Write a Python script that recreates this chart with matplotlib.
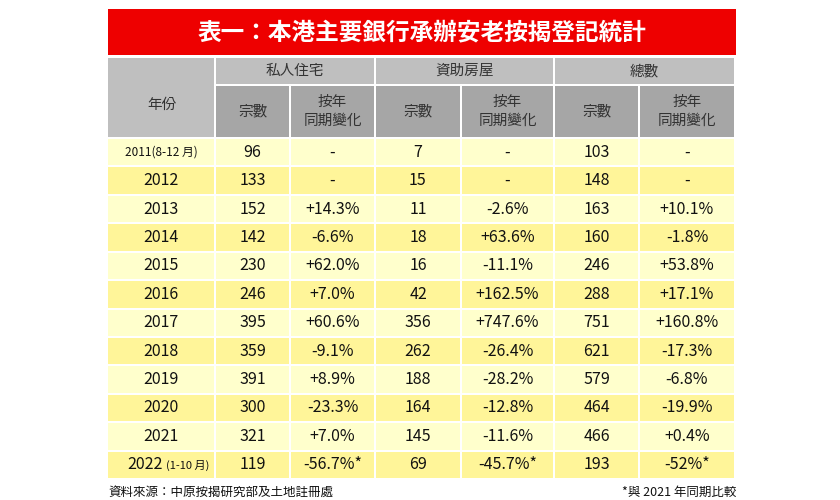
import matplotlib
matplotlib.use("Agg")
import matplotlib.pyplot as plt
from matplotlib.patches import Rectangle
from matplotlib import font_manager as fm

cjk = None
for pref in ["Noto Sans CJK TC", "Noto Sans CJK SC", "Noto Sans CJK JP", "Noto Sans CJK KR"]:
    for f in fm.fontManager.ttflist:
        if f.name == pref:
            cjk = pref
            break
    if cjk:
        break
if cjk is None:
    for f in fm.fontManager.ttflist:
        if "CJK" in f.name or "CJK" in f.fname:
            cjk = f.name
            break
if cjk is None:
    for path in fm.findSystemFonts():
        if "CJK" in path:
            fm.fontManager.addfont(path)
            cjk = fm.FontProperties(fname=path).get_name()
            break
plt.rcParams["font.family"] = [cjk or "DejaVu Sans", "DejaVu Sans"]

title = "表一：本港主要銀行承辦安老按揭登記統計"
groups = ["私人住宅", "資助房屋", "總數"]
sub = ["宗數", "按年\n同期變化"]
years = ["2011(8-12 月)", "2012", "2013", "2014", "2015", "2016", "2017", "2018",
         "2019", "2020", "2021", "2022 (1-10 月)"]
private_n = ["96", "133", "152", "142", "230", "246", "395", "359", "391", "300", "321", "119"]
private_ch = ["-", "-", "+14.3%", "-6.6%", "+62.0%", "+7.0%", "+60.6%", "-9.1%", "+8.9%", "-23.3%", "+7.0%", "-56.7%*"]
subsid_n = ["7", "15", "11", "18", "16", "42", "356", "262", "188", "164", "145", "69"]
subsid_ch = ["-", "-", "-2.6%", "+63.6%", "-11.1%", "+162.5%", "+747.6%", "-26.4%", "-28.2%", "-12.8%", "-11.6%", "-45.7%*"]
total_n = ["103", "148", "163", "160", "246", "288", "751", "621", "579", "464", "466", "193"]
total_ch = ["-", "-", "+10.1%", "-1.8%", "+53.8%", "+17.1%", "+160.8%", "-17.3%", "-6.8%", "-19.9%", "+0.4%", "-52%*"]
source = "資料來源：中原按揭研究部及土地註冊處"
note = "*與 2021 年同期比較"

fig = plt.figure(figsize=(8.4, 5.0), dpi=100)
ax = fig.add_axes([0, 0, 1, 1])
ax.set_xlim(0, 840)
ax.set_ylim(500, 0)
ax.axis("off")

cols = [108, 216, 291, 376, 462, 555, 640, 736]
g = 2

def cell(x0, x1, y0, y1, color):
    ax.add_patch(Rectangle((x0, y0), x1 - x0 - g, y1 - y0 - g, color=color, lw=0))

ax.add_patch(Rectangle((108, 9), 628, 46, color="#EE0000", lw=0))
ax.text(422, 32, title, color="white", fontsize=17, ha="center", va="center", fontweight="bold")

hy0, hy1, hy2 = 58, 86, 139
cell(cols[0], cols[1], hy0, hy2, "#BFBFBF")
ax.text((cols[0] + cols[1]) / 2, 105, "年份", ha="center", va="center", fontsize=10.5, color="#333333")
for i, gname in enumerate(groups):
    x0, x1 = cols[1 + 2 * i], cols[3 + 2 * i]
    cell(x0, x1, hy0, hy1, "#BFBFBF")
    ax.text((x0 + x1 - g) / 2, (hy0 + hy1 - g) / 2, gname, ha="center", va="center", fontsize=10.5, color="#333333")
    for j, s in enumerate(sub):
        a, b = cols[1 + 2 * i + j], cols[2 + 2 * i + j]
        cell(a, b, hy1, hy2, "#A6A6A6")
        ax.text((a + b - g) / 2, (hy1 + hy2 - g) / 2, s, ha="center", va="center", fontsize=10.5,
                color="#333333", linespacing=1.5)

rows = list(zip(years, private_n, private_ch, subsid_n, subsid_ch, total_n, total_ch))
rh = (480 - hy2) / len(rows)
for r, row in enumerate(rows):
    y0 = hy2 + r * rh
    color = "#FFFFCC" if r % 2 == 0 else "#FFF599"
    for c, val in enumerate(row):
        cell(cols[c], cols[c + 1], y0, y0 + rh, color)
        cx = (cols[c] + cols[c + 1] - g) / 2
        cy = y0 + rh / 2 - 1
        if c == 0 and "月" in val:
            if r == 0:
                ax.text(cx, cy, val, ha="center", va="center", fontsize=8.5, color="#111111")
            else:
                base, extra = val.split("(", 1)
                ax.text(cx + 2, cy, base.strip(), ha="right", va="center", fontsize=11.5, color="#111111")
                ax.text(cx + 5, cy + 1, "(" + extra, ha="left", va="center", fontsize=8, color="#111111")
            continue
        ax.text(cx, cy, val, ha="center", va="center", fontsize=11.5, color="#111111")

ax.text(108, 492, source, ha="left", va="center", fontsize=9, color="#111111")
ax.text(736, 492, note, ha="right", va="center", fontsize=9, color="#111111")

fig.savefig("out.png", dpi=100)
